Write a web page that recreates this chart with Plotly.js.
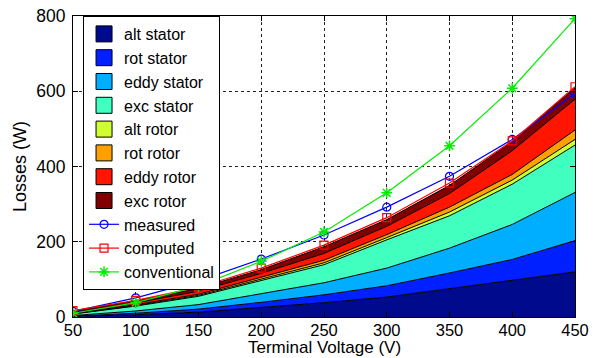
<!DOCTYPE html>
<html>
<head>
<meta charset="utf-8">
<script src="https://cdn.plot.ly/plotly-3.0.1.min.js"></script>
<style>html,body{margin:0;padding:0;background:#fff;}#chart{width:600px;height:358px;}</style>
</head>
<body>
<div id="chart"></div>
<script>
// Terminal voltage (V)
const voltage = [50, 100, 150, 200, 250, 300, 350, 400, 450];
// Loss components (W), stacked
const altStator  = [1.5, 6, 13, 25, 38, 53, 75, 97, 120];
const rotStator  = [1, 4, 8, 14, 21, 30, 42, 56, 83];
const eddyStator = [1.5, 6, 12, 22, 32, 47, 66, 93, 128];
const excStator  = [4, 13, 22, 35, 48, 75, 86, 107, 126];
const altRotor   = [0.5, 1.5, 2.5, 4, 5, 6, 10, 11, 15];
const rotRotor   = [1, 2, 3, 5, 7, 8, 13, 15, 25];
const eddyRotor  = [2.5, 5, 8, 11, 18, 22, 36, 63, 82];
const excRotor   = [3, 5, 8, 10, 18, 18, 22, 24, 30];
// Total losses (W)
const measured     = [15, 51, 96, 154, 218, 292, 374, 472, 594];
const computed     = [17, 44, 79, 130, 191, 264, 356, 468, 612];
const conventional = [10, 38, 82, 148, 226, 330, 455, 608, 793];

const componentNames = ['alt stator','rot stator','eddy stator','exc stator','alt rotor','rot rotor','eddy rotor','exc rotor'];
const componentData = [altStator, rotStator, eddyStator, excStator, altRotor, rotRotor, eddyRotor, excRotor];
const componentColors = ['#000a8c','#0020ff','#00aeff','#40ffbf','#cfff30','#ffa000','#ff1500','#800000'];

const traces = [];
componentData.forEach((vals, i) => {
  traces.push({
    x: voltage, y: vals, type: 'scatter', mode: 'lines',
    stackgroup: 'one', fill: 'tonexty',
    fillcolor: componentColors[i],
    line: {color: '#000', width: 1},
    name: componentNames[i], showlegend: false, hoverinfo: 'skip'
  });
});
// legend swatches for components
componentNames.forEach((nm, i) => {
  traces.push({
    x: [null], y: [null], type: 'scatter', mode: 'markers',
    marker: {symbol: 'square', size: 16, color: componentColors[i], line: {color: '#000', width: 1}},
    name: nm, showlegend: true
  });
});
traces.push({x: voltage, y: measured, type: 'scatter', mode: 'lines+markers', name: 'measured',
  line: {color: '#0000ff', width: 1.2}, marker: {symbol: 'circle-open', size: 8, color: '#0000ff', line: {width: 1.2}}});
traces.push({x: voltage, y: computed, type: 'scatter', mode: 'lines+markers', name: 'computed',
  line: {color: '#ff0000', width: 1.2}, marker: {symbol: 'square-open', size: 8, color: '#ff0000', line: {width: 1.2}}});
traces.push({x: voltage, y: conventional, type: 'scatter', mode: 'lines+markers', name: 'conventional',
  line: {color: '#00ee00', width: 1.2}, marker: {symbol: 'asterisk-open', size: 9, color: '#00ee00', line: {color: '#00ee00', width: 1.5}}});

const font = {family: 'Liberation Sans, Arial, sans-serif', color: '#000'};
const layout = {
  width: 600, height: 358,
  margin: {l: 73, r: 25, t: 16, b: 41},
  paper_bgcolor: '#fff', plot_bgcolor: '#fff',
  font: Object.assign({size: 17}, font),
  showlegend: true,
  legend: {
    x: 0.02, y: 1, xanchor: 'left', yanchor: 'top',
    bgcolor: '#fff', bordercolor: '#000', borderwidth: 1,
    traceorder: 'normal', font: Object.assign({size: 16}, font),
    itemwidth: 30, tracegroupgap: 0
  },
  xaxis: {
    range: [50, 450], tickvals: [50,100,150,200,250,300,350,400,450],
    ticks: 'inside', ticklen: 5, tickcolor: '#000',
    showline: true, linecolor: '#000', linewidth: 1, mirror: 'ticks',
    showgrid: true, gridcolor: '#222', griddash: 'dot', gridwidth: 1,
    zeroline: false, tickfont: Object.assign({size: 16.5}, font),
    ticklabelstandoff: -2,
    automargin: false
  },
  yaxis: {
    range: [0, 800], tickvals: [0,200,400,600,800],
    ticks: 'inside', ticklen: 5, tickcolor: '#000',
    showline: true, linecolor: '#000', linewidth: 1, mirror: 'ticks',
    showgrid: true, gridcolor: '#222', griddash: 'dot', gridwidth: 1,
    zeroline: false, tickfont: Object.assign({size: 17.5}, font),
    ticklabelstandoff: 3,
    title: {text: 'Losses (W)', font: Object.assign({size: 18}, font), standoff: 4},
    automargin: false
  },
  annotations: [{
    text: 'Terminal Voltage (V)', xref: 'paper', yref: 'paper', x: 0.5, y: 0,
    xanchor: 'center', yanchor: 'bottom', yshift: -41, borderpad: 0, showarrow: false,
    font: Object.assign({size: 17}, font)
  }]
};
Plotly.newPlot('chart', traces, layout, {displayModeBar: false, staticPlot: true});
</script>
</body>
</html>
